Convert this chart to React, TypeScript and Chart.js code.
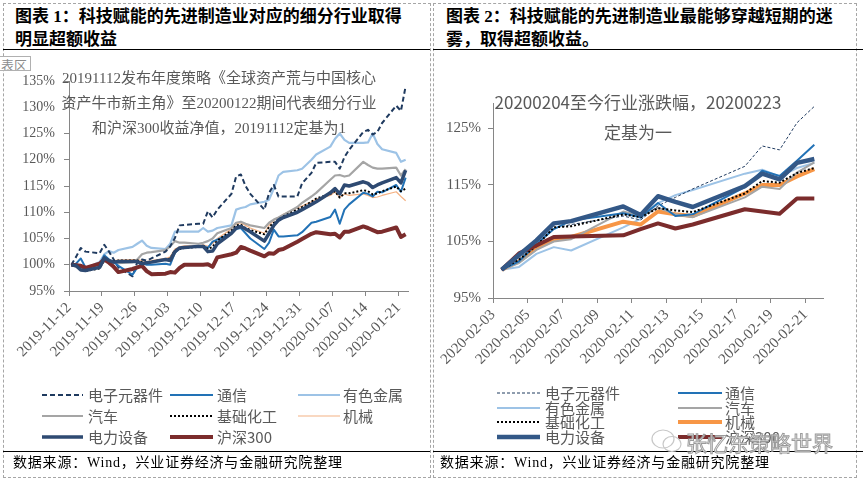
import React, { useEffect, useRef } from 'react';
import { Chart, registerables } from 'chart.js';

Chart.register(...registerables);

// ---------- data ----------
const seriesNames = ['电子元器件', '通信', '有色金属', '汽车', '基础化工', '机械', '电力设备', '沪深300'];

const leftDates = [
  '2019-11-12', '2019-11-13', '2019-11-14', '2019-11-15', '2019-11-18', '2019-11-19', '2019-11-20',
  '2019-11-21', '2019-11-22', '2019-11-25', '2019-11-26', '2019-11-27', '2019-11-28', '2019-11-29',
  '2019-12-02', '2019-12-03', '2019-12-04', '2019-12-05', '2019-12-06', '2019-12-09', '2019-12-10',
  '2019-12-11', '2019-12-12', '2019-12-13', '2019-12-16', '2019-12-17', '2019-12-18', '2019-12-19',
  '2019-12-20', '2019-12-23', '2019-12-24', '2019-12-25', '2019-12-26', '2019-12-27', '2019-12-30',
  '2019-12-31', '2020-01-02', '2020-01-03', '2020-01-06', '2020-01-07', '2020-01-08', '2020-01-09',
  '2020-01-10', '2020-01-13', '2020-01-14', '2020-01-15', '2020-01-16', '2020-01-17', '2020-01-20',
  '2020-01-21', '2020-01-22',
];
const leftTickLabels = [
  '2019-11-12', '2019-11-19', '2019-11-26', '2019-12-03', '2019-12-10', '2019-12-17',
  '2019-12-24', '2019-12-31', '2020-01-07', '2020-01-14', '2020-01-21',
];
const leftYTicks = [95, 100, 105, 110, 115, 120, 125, 130, 135];

const lEle = [100, 101.5, 103.2, 102.5, 102.2, 103.8, 102.5, 101.0, 99.5, 97.8, 100.5, 101.0, 100.8, 101.2,
  102.5, 103.5, 105.1, 107.5, 107.6, 107.8, 107.8, 110.2, 109.0, 110.5, 113.5, 116.8, 117.2, 115.0, 113.5, 110.5, 113.7, 115.2, 113.0, 113.0, 113.0, 115.5,
  117.5, 119.4, 119.6, 119.6, 118.3, 120.5, 121.9, 125.3, 125.7, 124.8, 125.3, 127.0, 130.3, 129.3, 134.0];
const lTel = [100, 100.2, 101.2, 99.5, 100.0, 101.8, 101.0, 100.5, 99.8, 98.1, 99.5, 100.3, 100.0, 100.0,
  100.2, 100.0, 102.3, 103.2, 103.3, 103.5, 103.6, 103.2, 104.4, 104.8, 106.0, 106.8, 107.0, 106.0, 105.0, 103.0, 104.2, 106.7, 105.4, 105.4, 105.6, 106.2,
  108.0, 108.2, 109.1, 110.5, 107.8, 110.5, 111.5, 113.7, 113.5, 113.0, 113.9, 113.8, 115.2, 113.9, 116.6];
const lMet = [100, 100.2, 99.5, 99.3, 100.5, 102.0, 102.6, 102.3, 102.8, 103.4, 104.0, 104.6, 103.6, 103.2,
  103.0, 104.0, 106.3, 106.3, 106.3, 106.3, 107.0, 106.3, 106.5, 107.0, 107.5, 110.5, 110.8, 111.0, 111.5, 112.0, 112.4, 114.5, 117.0, 117.7, 118.0, 118.3,
  120.0, 121.0, 122.5, 124.0, 125.0, 123.8, 123.2, 123.2, 123.3, 125.0, 123.0, 122.0, 121.3, 119.6, 120.0];
const lAuto = [100, 99.7, 99.3, 98.9, 99.5, 101.0, 100.8, 100.5, 100.3, 100.5, 101.0, 102.0, 102.3, 102.4,
  102.8, 103.5, 104.5, 104.2, 104.2, 104.0, 104.2, 104.5, 105.0, 106.0, 107.0, 108.0, 108.2, 107.8, 107.5, 107.0, 108.0, 108.6, 109.0, 109.5, 111.0, 111.8,
  113.0, 113.7, 116.2, 117.0, 117.1, 116.8, 117.0, 119.6, 119.0, 118.5, 118.3, 118.3, 118.5, 117.0, 118.2];
const lChem = [100, 99.8, 99.2, 98.8, 99.3, 100.8, 100.6, 100.6, 100.8, 100.8, 100.8, 100.5, 100.4, 100.6,
  101.0, 101.2, 102.8, 103.0, 103.2, 103.4, 103.6, 103.0, 103.4, 104.6, 106.5, 107.5, 107.6, 107.0, 106.6, 105.8, 107.2, 108.0, 108.6, 109.2, 110.5, 111.0,
  112.0, 112.6, 113.5, 114.0, 112.8, 113.6, 113.6, 114.2, 114.0, 113.4, 113.6, 114.0, 114.9, 114.0, 114.5];
const lMach = [100, 99.9, 99.4, 99.0, 99.5, 101.0, 100.8, 100.8, 100.9, 101.0, 101.0, 100.8, 100.6, 100.8,
  101.2, 101.5, 103.0, 103.4, 103.6, 103.6, 103.8, 103.5, 104.0, 105.0, 106.8, 107.8, 108.0, 107.5, 107.0, 106.0, 107.5, 108.5, 109.0, 109.6, 110.8, 111.2,
  112.0, 112.5, 113.2, 113.9, 112.8, 113.5, 113.2, 113.5, 113.2, 112.8, 112.9, 113.2, 113.9, 113.0, 112.2];
const lPower = [100, 99.8, 99.0, 98.9, 99.5, 101.3, 100.8, 100.5, 100.6, 100.6, 100.6, 100.2, 100.4, 100.5,
  101.0, 100.8, 102.5, 103.2, 103.3, 103.5, 103.5, 102.5, 102.6, 104.0, 106.0, 107.0, 107.3, 106.8, 106.3, 104.5, 106.0, 107.5, 108.5, 109.0, 110.0, 110.5,
  111.5, 112.0, 113.7, 114.5, 113.5, 115.2, 115.0, 115.8, 115.5, 114.7, 115.2, 115.6, 116.6, 115.6, 118.0];
const lHs300 = [100, 99.9, 99.8, 99.4, 100.2, 101.0, 100.4, 99.6, 98.6, 99.2, 99.5, 99.8, 98.8, 98.2,
  98.3, 98.6, 98.5, 99.4, 100.0, 100.0, 100.0, 100.1, 99.6, 101.4, 102.0, 102.3, 103.4, 103.1, 102.7, 101.6, 102.2, 102.1, 102.8, 103.0, 104.4, 104.9,
  105.9, 106.2, 105.8, 105.9, 105.2, 106.3, 106.3, 107.3, 107.0, 106.6, 106.2, 106.3, 107.1, 105.3, 105.8];

const rightDates = [
  '2020-02-03', '2020-02-04', '2020-02-05', '2020-02-06', '2020-02-07', '2020-02-10', '2020-02-11',
  '2020-02-12', '2020-02-13', '2020-02-14', '2020-02-17', '2020-02-18', '2020-02-19', '2020-02-20', '2020-02-21',
];
const rightTickLabels = [
  '2020-02-03', '2020-02-05', '2020-02-07', '2020-02-09', '2020-02-11',
  '2020-02-13', '2020-02-15', '2020-02-17', '2020-02-19', '2020-02-21',
];
const rightYTicks = [95, 105, 115, 125];

const rEle = [100, 102.0, 104.5, 107.3, 108.0, 109.5, 108.8, 111.3, 112.8, 114.3, 118.3, 121.9, 121.2, 126.0, 128.9];
const rTel = [100, 101.5, 104.5, 107.2, 108.7, 110.0, 109.3, 111.8, 109.5, 109.8, 114.6, 117.5, 116.6, 119.3, 122.1];
const rMet = [100, 100.5, 102.8, 104.0, 103.4, 107.5, 109.0, 111.8, 113.2, 114.1, 117.0, 117.7, 116.5, 118.0, 118.9];
const rAuto = [100, 101.2, 103.5, 105.0, 105.4, 110.3, 109.5, 111.0, 109.8, 109.3, 112.8, 114.7, 114.3, 117.2, 119.0];
const rChem = [100, 101.8, 104.2, 107.5, 107.7, 109.8, 109.3, 110.9, 110.5, 110.2, 113.5, 115.7, 115.4, 117.1, 118.0];
const rMach = [100, 101.5, 103.8, 105.3, 105.8, 108.5, 108.0, 110.3, 109.8, 109.5, 113.5, 115.0, 115.0, 116.5, 117.8];
const rPower = [100, 102.6, 105.2, 108.2, 108.6, 111.2, 109.7, 113.0, 112.0, 111.1, 114.8, 117.0, 116.0, 118.9, 119.6];
const rHs300 = [100, 102.9, 104.3, 105.8, 105.9, 106.1, 107.2, 108.2, 107.3, 108.0, 110.7, 110.3, 109.9, 112.6, 112.6];

// ---------- styles ----------
type LineStyle = { color: string; width: number; dash: number[] };
const leftStyles: LineStyle[] = [
  { color: '#1F3A5F', width: 2, dash: [5, 3] },
  { color: '#2272B6', width: 2, dash: [] },
  { color: '#9DC3E6', width: 2.2, dash: [] },
  { color: '#A5A5A5', width: 2.2, dash: [] },
  { color: '#000000', width: 2, dash: [2, 2] },
  { color: '#F4B183', width: 1.2, dash: [] },
  { color: '#2E4A72', width: 3.5, dash: [] },
  { color: '#7B2C2C', width: 4, dash: [] },
];
const rightStyles: LineStyle[] = [
  { color: '#1F3A5F', width: 1, dash: [3, 2] },
  { color: '#2272B6', width: 2, dash: [] },
  { color: '#9DC3E6', width: 2, dash: [] },
  { color: '#A5A5A5', width: 2, dash: [] },
  { color: '#000000', width: 2, dash: [2, 2] },
  { color: '#F79646', width: 4, dash: [] },
  { color: '#335887', width: 4.5, dash: [] },
  { color: '#7B2C2C', width: 4, dash: [] },
];
const drawOrder = [4, 3, 7, 5, 2, 6, 0, 1];

const dayOf = (d: string, start: string) => Math.round((Date.parse(d) - Date.parse(start)) / 86400000);

const AXIS = '#868686';
const TICKTXT = '#595959';

type ChartProps = {
  dates: string[];
  tickLabels: string[];
  series: number[][];
  styles: LineStyle[];
  yTicks: number[];
  xMax: number;
  yMin: number;
  yMax: number;
  width: number;
  height: number;
  yAxisWidth: number;
  xAxisHeight: number;
  padTop: number;
  padRight: number;
  yLabelPad: number;
  yFont: number;
  xFont: number;
  left: number;
  top: number;
};

function LineChart(p: ChartProps) {
  const ref = useRef<HTMLCanvasElement>(null);
  useEffect(() => {
    if (!ref.current) return;
    const start = p.dates[0];
    const xs = p.dates.map((d) => dayOf(d, start) + 0.5);
    const tickMap = new Map<number, string>(p.tickLabels.map((l) => [dayOf(l, start), l]));
    const datasets = p.series.map((vals, i) => ({
      label: seriesNames[i],
      data: vals.map((v, j) => ({ x: xs[j], y: v })),
      borderColor: p.styles[i].color,
      backgroundColor: p.styles[i].color,
      borderWidth: p.styles[i].width,
      borderDash: p.styles[i].dash,
      borderJoinStyle: 'round' as const,
      pointRadius: 0,
      tension: 0,
      fill: false,
      order: drawOrder[i],
    }));
    const chart = new Chart(ref.current, {
      type: 'line',
      data: { datasets },
      options: {
        animation: false,
        responsive: false,
        events: [],
        layout: { padding: { top: p.padTop, right: p.padRight, left: 0, bottom: 0 } },
        plugins: { legend: { display: false }, tooltip: { enabled: false }, title: { display: false } },
        scales: {
          x: {
            type: 'linear',
            min: 0,
            max: p.xMax,
            afterBuildTicks: (axis: any) => {
              axis.ticks = p.tickLabels.map((l) => ({ value: dayOf(l, start) }));
            },
            afterFit: (axis: any) => {
              axis.height = p.xAxisHeight;
            },
            grid: { display: true, drawOnChartArea: false, drawTicks: true, tickLength: 5, color: AXIS },
            border: { display: true, color: AXIS, width: 1 },
            ticks: {
              autoSkip: false,
              minRotation: 45,
              maxRotation: 45,
              padding: 3,
              color: TICKTXT,
              font: { family: "'Liberation Serif', 'Times New Roman', serif", size: p.xFont },
              callback: (v: any) => tickMap.get(Number(v)) ?? '',
            },
          },
          y: {
            type: 'linear',
            min: p.yMin,
            max: p.yMax,
            afterBuildTicks: (axis: any) => {
              axis.ticks = p.yTicks.map((v) => ({ value: v }));
            },
            afterFit: (axis: any) => {
              axis.width = p.yAxisWidth;
            },
            grid: { display: true, drawOnChartArea: false, drawTicks: true, tickLength: 5, color: AXIS },
            border: { display: true, color: AXIS, width: 1 },
            ticks: {
              padding: p.yLabelPad,
              color: TICKTXT,
              font: { family: "'Liberation Serif', 'Times New Roman', serif", size: p.yFont },
              callback: (v: any) => `${v}%`,
            },
          },
        },
      },
    });
    return () => chart.destroy();
  }, []);
  return (
    <canvas
      ref={ref}
      width={p.width}
      height={p.height}
      style={{ position: 'absolute', left: p.left, top: p.top, width: p.width, height: p.height }}
    />
  );
}

type LegendItem = { idx: number; x1: number; x2: number; tx: number; y: number };

function Legend({ items, styles }: { items: LegendItem[]; styles: LineStyle[] }) {
  return (
    <>
      {items.map((it) => {
        const s = styles[it.idx];
        const w = it.x2 - it.x1;
        return (
          <React.Fragment key={it.idx}>
            <svg
              width={w}
              height={10}
              style={{ position: 'absolute', left: it.x1, top: it.y - 5 }}
            >
              <line
                x1={0}
                y1={5}
                x2={w}
                y2={5}
                stroke={s.color}
                strokeWidth={s.width}
                strokeDasharray={s.dash.length ? s.dash.join(',') : undefined}
                strokeLinecap={s.width >= 3 ? 'round' : 'butt'}
              />
            </svg>
            <div
              style={{
                position: 'absolute',
                left: it.tx,
                top: it.y - 11,
                height: 22,
                lineHeight: '22px',
                fontSize: 15,
                color: '#595959',
                fontFamily: "'Noto Sans CJK SC', sans-serif",
                whiteSpace: 'nowrap',
              }}
            >
              {seriesNames[it.idx]}
            </div>
          </React.Fragment>
        );
      })}
    </>
  );
}

const leftLegend: LegendItem[] = [
  { idx: 0, x1: 42, x2: 83, tx: 88, y: 395 },
  { idx: 1, x1: 170, x2: 213, tx: 217, y: 395 },
  { idx: 2, x1: 298, x2: 340, tx: 343, y: 395 },
  { idx: 3, x1: 42, x2: 83, tx: 88, y: 416 },
  { idx: 4, x1: 170, x2: 213, tx: 217, y: 416 },
  { idx: 5, x1: 298, x2: 340, tx: 343, y: 416 },
  { idx: 6, x1: 42, x2: 83, tx: 88, y: 437 },
  { idx: 7, x1: 170, x2: 213, tx: 217, y: 437 },
];
const rightLegend: LegendItem[] = [
  { idx: 0, x1: 497, x2: 540, tx: 545, y: 393 },
  { idx: 1, x1: 678, x2: 722, tx: 725, y: 393 },
  { idx: 2, x1: 497, x2: 540, tx: 545, y: 407.5 },
  { idx: 3, x1: 678, x2: 722, tx: 725, y: 407.5 },
  { idx: 4, x1: 497, x2: 540, tx: 545, y: 422 },
  { idx: 5, x1: 678, x2: 722, tx: 725, y: 422 },
  { idx: 6, x1: 497, x2: 540, tx: 545, y: 437 },
  { idx: 7, x1: 678, x2: 722, tx: 725, y: 437 },
];

const titleStyle: React.CSSProperties = {
  position: 'absolute',
  fontSize: 17,
  fontWeight: 700,
  color: '#000',
  fontFamily: "'Liberation Serif', 'Noto Sans CJK SC', serif",
  whiteSpace: 'nowrap',
  lineHeight: '23px',
};
const innerTitle: React.CSSProperties = {
  position: 'absolute',
  color: '#595959',
  whiteSpace: 'nowrap',
  textAlign: 'center',
};
const footStyle: React.CSSProperties = {
  position: 'absolute',
  fontSize: 14,
  letterSpacing: 0.8,
  color: '#000',
  fontFamily: "'Liberation Serif', 'Noto Sans CJK SC', serif",
  whiteSpace: 'nowrap',
  lineHeight: '20px',
};

export default function App() {
  return (
    <div
      style={{
        position: 'absolute',
        left: 0,
        top: 0,
        width: 863,
        height: 482,
        background: '#fff',
        overflow: 'hidden',
      }}
    >
      {/* panel frames */}
      <div style={{ position: 'absolute', left: 3, top: 3, width: 426, height: 473, border: '1px dashed #a6a6a6' }} />
      <div style={{ position: 'absolute', left: 433, top: 3, width: 422, height: 473, border: '1px dashed #a6a6a6' }} />
      <div style={{ position: 'absolute', left: 3, top: 49, width: 427, borderTop: '1.5px solid #000' }} />
      <div style={{ position: 'absolute', left: 433, top: 49, width: 430, borderTop: '1.5px solid #000' }} />
      <div style={{ position: 'absolute', left: 3, top: 451, width: 427, borderTop: '1.5px solid #000' }} />
      <div style={{ position: 'absolute', left: 433, top: 451, width: 430, borderTop: '1.5px solid #000' }} />

      {/* titles */}
      <div style={{ ...titleStyle, left: 15, top: 5 }}>图表 1：科技赋能的先进制造业对应的细分行业取得</div>
      <div style={{ ...titleStyle, left: 15, top: 28 }}>明显超额收益</div>
      <div style={{ ...titleStyle, left: 446, top: 5 }}>图表 2：科技赋能的先进制造业最能够穿越短期的迷</div>
      <div style={{ ...titleStyle, left: 446, top: 28 }}>雾，取得超额收益。</div>

      {/* charts */}
      <LineChart
        dates={leftDates}
        tickLabels={leftTickLabels}
        series={[lEle, lTel, lMet, lAuto, lChem, lMach, lPower, lHs300]}
        styles={leftStyles}
        yTicks={leftYTicks}
        xMax={72}
        yMin={95}
        yMax={135}
        left={0}
        top={55}
        width={430}
        height={335}
        yAxisWidth={69}
        xAxisHeight={99}
        padTop={26}
        padRight={22}
        yLabelPad={9}
        yFont={14}
        xFont={15}
      />
      <LineChart
        dates={rightDates}
        tickLabels={rightTickLabels}
        series={[rEle, rTel, rMet, rAuto, rChem, rMach, rPower, rHs300]}
        styles={rightStyles}
        yTicks={rightYTicks}
        xMax={19}
        yMin={95}
        yMax={129.5}
        left={430}
        top={55}
        width={433}
        height={335}
        yAxisWidth={63}
        xAxisHeight={92}
        padTop={48}
        padRight={40}
        yLabelPad={7}
        yFont={15}
        xFont={15}
      />

      {/* "表区" tag */}
      <div
        style={{
          position: 'absolute',
          left: -1,
          top: 56,
          width: 32,
          height: 15,
          border: '1px solid #b0b0b0',
          background: '#fff',
          color: '#8c8c8c',
          fontSize: 13,
          lineHeight: '15px',
          fontFamily: "'Noto Sans CJK SC', sans-serif",
          paddingLeft: 1,
          boxSizing: 'border-box',
          overflow: 'hidden',
          whiteSpace: 'nowrap',
        }}
      >
        表区
      </div>

      {/* inner chart titles */}
      <div
        style={{
          ...innerTitle,
          left: 19,
          width: 400,
          top: 66,
          fontSize: 15,
          lineHeight: '25px',
          fontFamily: "'Liberation Serif', 'Noto Sans CJK SC', serif",
        }}
      >
        <div>20191112发布年度策略《全球资产荒与中国核心</div>
        <div>资产牛市新主角》至20200122期间代表细分行业</div>
        <div>和沪深300收益净值，20191112定基为1</div>
      </div>
      <div
        style={{
          ...innerTitle,
          left: 438,
          width: 400,
          top: 87,
          fontSize: 17,
          lineHeight: '30px',
          fontFamily: "'Noto Sans CJK SC', sans-serif",
        }}
      >
        <div>20200204至今行业涨跌幅，20200223</div>
        <div>定基为一</div>
      </div>

      {/* legends */}
      <Legend items={leftLegend} styles={leftStyles} />
      <Legend items={rightLegend} styles={rightStyles} />

      {/* watermark */}
      <svg width={34} height={26} style={{ position: 'absolute', left: 650, top: 428 }}>
        <ellipse cx={13} cy={11} rx={11} ry={9} fill="none" stroke="#c8c8c8" strokeWidth={1.2} />
        <ellipse cx={22} cy={16} rx={9} ry={7.5} fill="none" stroke="#c8c8c8" strokeWidth={1.2} />
      </svg>
      <div
        style={{
          position: 'absolute',
          left: 686,
          top: 428,
          fontSize: 21,
          lineHeight: '28px',
          color: 'rgba(255,255,255,0.75)',
          WebkitTextStroke: '1px #9a9a9a',
          fontFamily: "'Noto Sans CJK SC', sans-serif",
          whiteSpace: 'nowrap',
        }}
      >
        张忆东策略世界
      </div>

      {/* footers */}
      <div style={{ ...footStyle, left: 13, top: 453 }}>数据来源：Wind，兴业证券经济与金融研究院整理</div>
      <div style={{ ...footStyle, left: 440, top: 453 }}>数据来源：Wind，兴业证券经济与金融研究院整理</div>
    </div>
  );
}
